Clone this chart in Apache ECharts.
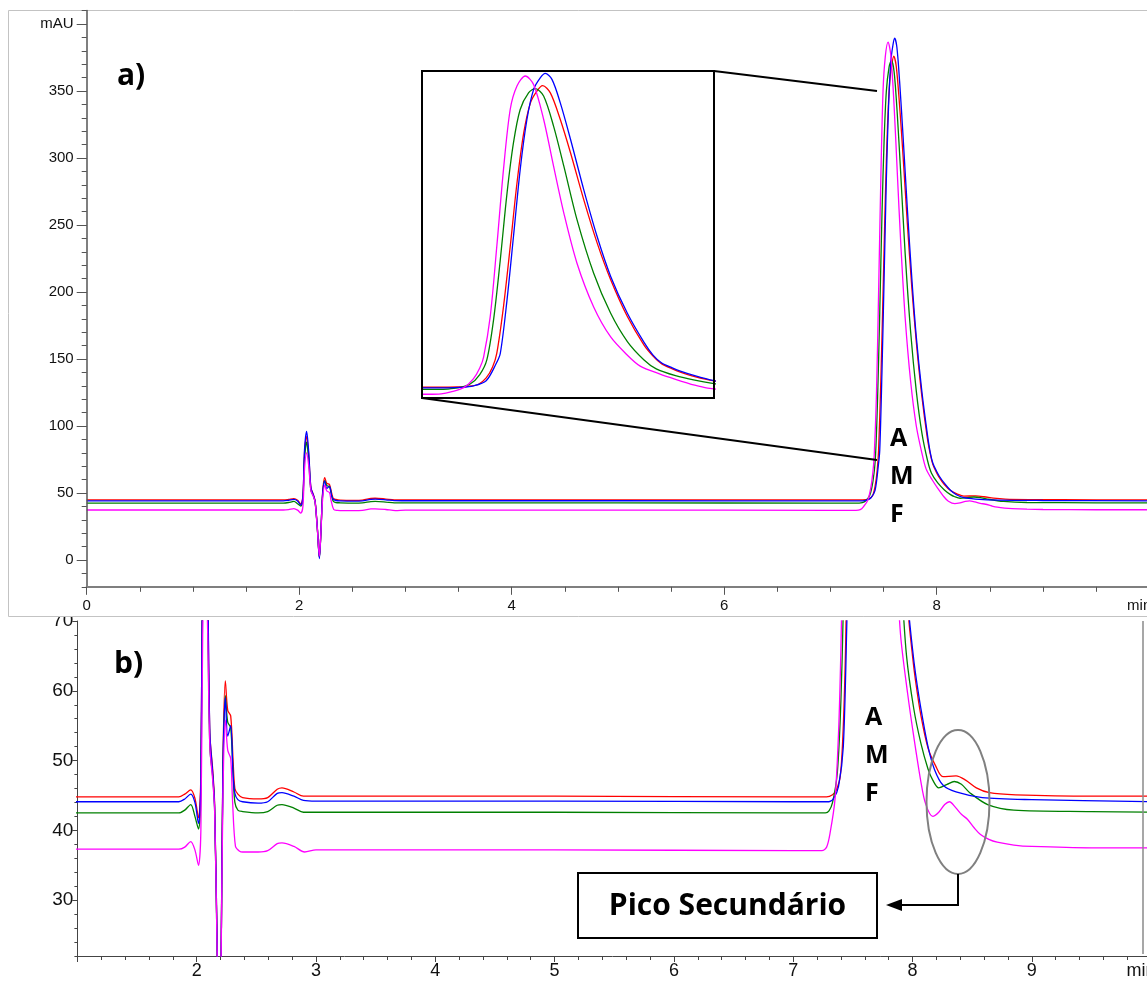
<!DOCTYPE html>
<html>
<head>
<meta charset="utf-8">
<script src="https://cdn.jsdelivr.net/npm/echarts@6/dist/echarts.min.js"></script>
<style>
  html, body { margin: 0; padding: 0; background: #fff; }
  #chart { width: 1147px; height: 985px; }
</style>
</head>
<body>
<div id="chart"></div>
<script>
// chromatogram traces, [time (min), absorbance (mAU)]
const redTrace = [
  [0, 44.8], [1.85, 44.8], [1.90, 45.2], [1.95, 45.8], [1.985, 44.6], [2.015, 41.8],
  [2.035, 48], [2.05, 80], [2.07, 92], [2.09, 78], [2.11, 54], [2.135, 48.5], [2.15, 44],
  [2.17, 25], [2.19, 2], [2.205, 22], [2.22, 50], [2.24, 61.4], [2.26, 57.2], [2.285, 56.4],
  [2.305, 50], [2.32, 46], [2.345, 45.2], [2.385, 44.7], [2.515, 44.5], [2.595, 44.7],
  [2.675, 45.9], [2.715, 46.1], [2.815, 45.5], [2.895, 44.9], [3.0, 44.9], [5.0, 44.9],
  [7.0, 44.8], [7.28, 44.8], [7.33, 45.1], [7.36, 45.7], [7.395, 47.8], [7.42, 55],
  [7.44, 67], [7.453, 82], [7.474, 133.4], [7.495, 199.4], [7.516, 269], [7.537, 324],
  [7.558, 357], [7.578, 370], [7.596, 376], [7.62, 368], [7.651, 338.8], [7.683, 302],
  [7.724, 250.8], [7.766, 203], [7.808, 162.8], [7.86, 122.4], [7.912, 91], [7.94, 79],
  [7.965, 71], [8.0, 65], [8.025, 61.5], [8.07, 56.5], [8.13, 51.8], [8.195, 49.2],
  [8.255, 47.7], [8.365, 47.8], [8.445, 47.2], [8.535, 46.1], [8.645, 45.4], [8.865, 45.1],
  [9.5, 44.9], [10, 44.9]
];
const blueTrace = [
  [0, 44.1], [1.85, 44.1], [1.90, 44.5], [1.95, 45.2], [1.985, 44.0], [2.015, 41.0],
  [2.035, 47], [2.05, 82], [2.07, 96], [2.09, 80], [2.11, 54], [2.135, 48], [2.15, 43.5],
  [2.17, 25], [2.19, 1], [2.205, 22], [2.22, 49], [2.24, 59], [2.26, 53.5], [2.285, 55],
  [2.305, 48], [2.32, 45.3], [2.345, 44.4], [2.385, 44.1], [2.515, 43.9], [2.595, 44.1],
  [2.675, 45.3], [2.715, 45.4], [2.815, 44.9], [2.895, 44.3], [3.0, 44.2], [5.0, 44.2],
  [7.0, 44.1], [7.30, 44.1], [7.34, 44.6], [7.38, 46.3], [7.42, 52], [7.45, 70],
  [7.464, 82], [7.485, 140.8], [7.505, 210], [7.526, 283.8], [7.547, 338.8], [7.568, 371.8],
  [7.589, 384.7], [7.604, 389.4], [7.625, 382.8], [7.651, 357], [7.683, 316.8], [7.724, 261.8],
  [7.766, 210], [7.808, 166.5], [7.86, 126], [7.912, 94], [7.94, 80], [7.965, 72],
  [8.0, 66], [8.025, 62.5], [8.07, 57.5], [8.13, 52], [8.185, 48.7], [8.255, 46.5],
  [8.365, 45.5], [8.585, 44.7], [9.0, 44.4], [10, 44.1]
];
const greenTrace = [
  [0, 42.5], [1.85, 42.5], [1.90, 42.9], [1.95, 43.7], [1.985, 42.0], [2.015, 40.2],
  [2.035, 45], [2.05, 76], [2.07, 88], [2.09, 74], [2.11, 52], [2.135, 47.5], [2.15, 43],
  [2.17, 24], [2.19, 2], [2.205, 22], [2.22, 48], [2.24, 59.3], [2.26, 55.5], [2.285, 54.7],
  [2.305, 48], [2.32, 44], [2.345, 42.9], [2.385, 42.7], [2.515, 42.5], [2.595, 42.7],
  [2.675, 43.6], [2.715, 43.7], [2.815, 43.2], [2.895, 42.6], [3.0, 42.6], [5.0, 42.6],
  [7.0, 42.5], [7.27, 42.5], [7.30, 42.8], [7.33, 44], [7.37, 48.3], [7.40, 58.7],
  [7.422, 74.8], [7.443, 118.8], [7.464, 184.8], [7.485, 258], [7.505, 313], [7.526, 349.8],
  [7.552, 368], [7.573, 372.6], [7.599, 364.5], [7.63, 331.5], [7.662, 287.5], [7.703, 228.8],
  [7.755, 170], [7.808, 126], [7.86, 95], [7.912, 74.8], [7.95, 65], [8.01, 57.5],
  [8.07, 52.5], [8.13, 48.8], [8.17, 47.2], [8.22, 46.1], [8.29, 46.6], [8.35, 47.0],
  [8.41, 46.6], [8.48, 45.4], [8.63, 43.7], [8.85, 42.9], [9.5, 42.7], [10, 42.6]
];
const magentaTrace = [
  [0, 37.3], [1.85, 37.3], [1.90, 37.6], [1.95, 38.4], [1.985, 37.2], [2.015, 35.0],
  [2.035, 40], [2.05, 68], [2.07, 80], [2.09, 70], [2.11, 52], [2.135, 47], [2.15, 43],
  [2.17, 24], [2.19, 3], [2.205, 22], [2.22, 45], [2.24, 55.8], [2.26, 51.5], [2.285, 50.3],
  [2.30, 44.4], [2.325, 37.7], [2.36, 37.0], [2.385, 36.9], [2.515, 36.9], [2.595, 37.1],
  [2.675, 38.1], [2.715, 38.2], [2.815, 37.7], [2.905, 36.9], [3.0, 37.2], [5.0, 37.2],
  [7.0, 37.1], [7.24, 37.1], [7.28, 37.6], [7.31, 39.7], [7.35, 44.4], [7.38, 54],
  [7.40, 66], [7.412, 78], [7.4325, 122], [7.453, 199], [7.474, 284], [7.495, 350],
  [7.516, 375.5], [7.542, 386.5], [7.568, 377], [7.599, 339], [7.63, 287.5], [7.662, 236],
  [7.703, 181], [7.755, 133], [7.808, 100], [7.86, 80], [7.90, 68], [7.96, 59.5],
  [8.01, 53.5], [8.07, 47], [8.11, 43.8], [8.17, 42.0], [8.22, 42.6], [8.27, 43.7],
  [8.31, 44.1], [8.36, 43.3], [8.41, 42.3], [8.46, 41.6], [8.52, 40.3], [8.57, 39.4],
  [8.64, 38.7], [8.71, 38.3], [8.85, 37.9], [9.0, 37.7], [9.5, 37.5], [10, 37.5]
];

// axis tick labels
const yLabelsA = [0, 50, 100, 150, 200, 250, 300, 350, 400];
const yLabelsB = [30, 40, 50, 60, 70];

const traces = [
  { name: 'vermelho', data: redTrace, color: '#ff0000' },
  { name: 'verde', data: greenTrace, color: '#008000' },
  { name: 'azul', data: blueTrace, color: '#0000ff' },
  { name: 'magenta', data: magentaTrace, color: '#ff00ff' }
];

const labelFont = '"Liberation Sans", Arial, sans-serif';
const boldFont = '"Open Sans", "Noto Sans", sans-serif';

const chart = echarts.init(document.getElementById('chart'));

// grid 0 = a), grid 1 = b), grid 2 = inset; y axis used by each grid
const yAxisOfGrid = [0, 2, 4];
const series = [];
[0, 1, 2].forEach(g => {
  traces.forEach(t => {
    series.push({
      type: 'line',
      name: t.name,
      xAxisIndex: g,
      yAxisIndex: yAxisOfGrid[g],
      data: t.data,
      showSymbol: false,
      smooth: 0.3,
      clip: true,
      silent: true,
      lineStyle: { color: t.color, width: 1.3 },
      z: 2
    });
  });
});

const option = {
  animation: false,
  grid: [
    { left: 86.7, top: 10.6, width: 1062.5, height: 576.2, outerBoundsMode: 'none' },
    { left: 77.4, top: 621, width: 1073.7, height: 335, outerBoundsMode: 'none' },
    { left: 422, top: 71, width: 292, height: 327, outerBoundsMode: 'none' }
  ],
  xAxis: [
    {
      gridIndex: 0, type: 'value', min: 0, max: 10, interval: 2, z: 3,
      axisLine: { onZero: false, lineStyle: { color: '#7f7f7f', width: 2 } },
      axisTick: { length: 8, lineStyle: { color: '#555' } },
      minorTick: { show: true, splitNumber: 4, length: 5, lineStyle: { color: '#555' } },
      splitLine: { show: false },
      axisLabel: {
        margin: 12, fontSize: 15, color: '#111', fontFamily: labelFont,
        formatter: v => v === 10 ? '{m|min}' : String(v),
        rich: { m: { fontSize: 15, fontFamily: labelFont, color: '#111', padding: [0, 20, 0, 0] } }
      }
    },
    {
      gridIndex: 1, type: 'value', min: 1, max: 10, interval: 1,
      axisLine: { onZero: false, lineStyle: { color: '#444', width: 1 } },
      axisTick: { length: 6, lineStyle: { color: '#444' } },
      minorTick: { show: true, splitNumber: 5, length: 4, lineStyle: { color: '#444' } },
      splitLine: { show: false },
      axisLabel: {
        margin: 6, fontSize: 18, color: '#111', fontFamily: labelFont,
        formatter: v => v === 1 ? '' : (v === 10 ? '{m|min}' : String(v)),
        rich: { m: { fontSize: 18, fontFamily: labelFont, color: '#111', padding: [0, 20, 0, 0] } }
      }
    },
    { gridIndex: 2, type: 'value', min: 7.22, max: 8.13, show: false }
  ],
  yAxis: [
    {
      gridIndex: 0, type: 'value', min: -20, max: 410, position: 'left', z: 3,
      axisLine: { show: true, onZero: false, lineStyle: { color: '#555', width: 1.5 } },
      axisTick: { show: true, length: 10, customValues: yLabelsA, lineStyle: { color: '#555' } },
      splitLine: { show: false },
      axisLabel: {
        margin: 13, fontSize: 15, color: '#111', fontFamily: labelFont,
        customValues: yLabelsA,
        formatter: v => v === 400 ? 'mAU' : String(v)
      }
    },
    {
      gridIndex: 0, type: 'value', min: -20, max: 410, interval: 10, position: 'left', offset: 0, z: 3,
      axisLine: { show: false, onZero: false },
      axisTick: { show: true, length: 5, lineStyle: { color: '#555' } },
      axisLabel: { show: false },
      splitLine: { show: false }
    },
    {
      gridIndex: 1, type: 'value', min: 22, max: 70, position: 'left',
      axisLine: { show: true, onZero: false, lineStyle: { color: '#444', width: 1 } },
      axisTick: { show: true, length: 5, customValues: yLabelsB, lineStyle: { color: '#444' } },
      splitLine: { show: false },
      axisLabel: {
        margin: 4, fontSize: 19, color: '#111', fontFamily: labelFont,
        customValues: yLabelsB
      }
    },
    {
      gridIndex: 1, type: 'value', min: 22, max: 70, interval: 2, position: 'left', offset: 0,
      axisLine: { show: false, onZero: false },
      axisTick: { show: true, length: 3, lineStyle: { color: '#444' } },
      axisLabel: { show: false },
      splitLine: { show: false }
    },
    { gridIndex: 2, type: 'value', min: 33, max: 392, show: false }
  ],
  series: series,
  graphic: {
    elements: [
      // frame of panel a), covers the top of the b) axis
      { type: 'rect', z: 1, silent: true,
        shape: { x: 8.5, y: 10.5, width: 1160, height: 606 },
        style: { fill: '#fff', stroke: '#c3c3c3', lineWidth: 1 } },
      // inset frame and its connector lines
      { type: 'rect', z: 10, silent: true,
        shape: { x: 422, y: 71, width: 292, height: 327 },
        style: { fill: null, stroke: '#000', lineWidth: 2 } },
      { type: 'line', z: 10, silent: true,
        shape: { x1: 714, y1: 71, x2: 877, y2: 91 },
        style: { stroke: '#000', lineWidth: 2 } },
      { type: 'line', z: 10, silent: true,
        shape: { x1: 422, y1: 398, x2: 877, y2: 460 },
        style: { stroke: '#000', lineWidth: 2 } },
      // panel letters
      { type: 'text', z: 10, x: 117, y: 76,
        style: { text: 'a)', font: 'bold 30px ' + boldFont, fill: '#000', verticalAlign: 'middle' } },
      { type: 'text', z: 10, x: 114, y: 664,
        style: { text: 'b)', font: 'bold 30px ' + boldFont, fill: '#000', verticalAlign: 'middle' } },
      // A M F labels
      { type: 'text', z: 10, x: 890, y: 439,
        style: { text: 'A', font: 'bold 25px ' + boldFont, fill: '#000', verticalAlign: 'middle' } },
      { type: 'text', z: 10, x: 890, y: 477,
        style: { text: 'M', font: 'bold 25px ' + boldFont, fill: '#000', verticalAlign: 'middle' } },
      { type: 'text', z: 10, x: 890, y: 515,
        style: { text: 'F', font: 'bold 25px ' + boldFont, fill: '#000', verticalAlign: 'middle' } },
      { type: 'text', z: 10, x: 865, y: 718,
        style: { text: 'A', font: 'bold 25px ' + boldFont, fill: '#000', verticalAlign: 'middle' } },
      { type: 'text', z: 10, x: 865, y: 756,
        style: { text: 'M', font: 'bold 25px ' + boldFont, fill: '#000', verticalAlign: 'middle' } },
      { type: 'text', z: 10, x: 865, y: 794,
        style: { text: 'F', font: 'bold 25px ' + boldFont, fill: '#000', verticalAlign: 'middle' } },
      // right edge of panel b)
      { type: 'line', z: 10, silent: true,
        shape: { x1: 1143, y1: 621, x2: 1143, y2: 954 },
        style: { stroke: '#8a8a8a', lineWidth: 1.5 } },
      // secondary peak annotation
      { type: 'ellipse', z: 10, silent: true,
        shape: { cx: 958, cy: 802, rx: 31.5, ry: 72 },
        style: { fill: null, stroke: '#808080', lineWidth: 2 } },
      { type: 'polyline', z: 10, silent: true,
        shape: { points: [[958, 874], [958, 905], [898, 905]] },
        style: { fill: null, stroke: '#000', lineWidth: 2 } },
      { type: 'polygon', z: 10, silent: true,
        shape: { points: [[886, 905], [902, 899], [902, 911]] },
        style: { fill: '#000' } },
      { type: 'rect', z: 10, silent: true,
        shape: { x: 578, y: 873, width: 299, height: 65 },
        style: { fill: '#fff', stroke: '#000', lineWidth: 2 } },
      { type: 'text', z: 11, x: 727.5, y: 906,
        style: { text: 'Pico Secundário', font: 'bold 30px ' + boldFont, fill: '#000',
                 align: 'center', verticalAlign: 'middle' } }
    ]
  }
};

chart.setOption(option);
</script>
</body>
</html>
